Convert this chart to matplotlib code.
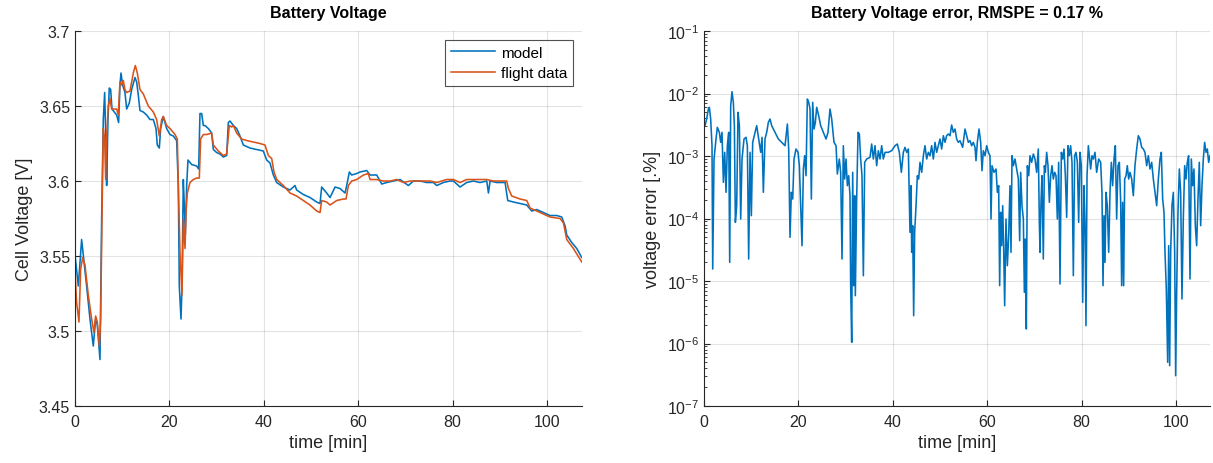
import numpy as np
import matplotlib
matplotlib.use("Agg")
import matplotlib.pyplot as plt
from matplotlib.ticker import LogLocator, NullFormatter

# colours used by MATLAB by default
BLUE = "#0072BD"
ORANGE = "#D95319"

# ---- Battery voltage: model ----
model_t = [0, 0.71, 1.41, 2.47, 3.18, 3.88, 4.38, 4.73, 5.30, 5.65, 6.00, 6.29, 6.57, 6.71, 6.99,
           7.27, 7.56, 7.84, 8.83, 9.25, 9.53, 9.75, 10.10, 10.59, 10.95, 11.51, 12.01, 12.71,
           13.07, 13.42, 13.77, 14.48, 15.18, 15.89, 16.60, 17.16, 17.44, 17.87, 18.15, 18.71,
           19.42, 20.13, 20.83, 21.54, 21.89, 22.10, 22.46, 22.67, 22.95, 23.16, 23.38, 23.66,
           23.94, 24.72, 25.78, 26.20, 26.48, 26.84, 27.19, 27.54, 28.25, 28.95, 29.31, 30.01,
           30.72, 31.43, 32.13, 32.49, 32.84, 33.55, 34.25, 34.96, 35.66, 37.08, 38.49, 39.90,
           40.61, 41.31, 42.02, 42.73, 44.14, 45.55, 46.61, 46.96, 48.38, 49.79, 51.20, 51.91,
           52.26, 53.32, 54.03, 55.09, 56.15, 57.21, 57.56, 58.12, 58.62, 59.68, 60.38, 61.80,
           62.50, 63.92, 64.98, 66.03, 67.45, 68.86, 70.62, 71.68, 73.10, 74.51, 75.92, 76.63,
           78.04, 79.45, 80.16, 81.57, 82.98, 84.40, 85.81, 87.22, 87.58, 87.93, 89.34, 91.11,
           91.67, 92.87, 94.28, 95.70, 96.75, 97.81, 99.23, 100.64, 102.05, 103.11, 103.82,
           104.17, 105.23, 106.29, 107.35]
model_v = [3.551, 3.530, 3.561, 3.530, 3.508, 3.490, 3.508, 3.504, 3.481, 3.575, 3.641, 3.659,
           3.624, 3.597, 3.641, 3.662, 3.661, 3.648, 3.644, 3.639, 3.664, 3.672, 3.664, 3.659,
           3.648, 3.652, 3.661, 3.669, 3.666, 3.657, 3.647, 3.646, 3.644, 3.641, 3.641, 3.635,
           3.624, 3.622, 3.635, 3.643, 3.635, 3.631, 3.630, 3.627, 3.597, 3.530, 3.508, 3.530,
           3.601, 3.584, 3.564, 3.597, 3.614, 3.611, 3.610, 3.608, 3.645, 3.645, 3.637, 3.637,
           3.635, 3.632, 3.621, 3.619, 3.618, 3.616, 3.617, 3.639, 3.640, 3.637, 3.635, 3.630,
           3.624, 3.622, 3.621, 3.620, 3.614, 3.612, 3.604, 3.599, 3.596, 3.594, 3.597, 3.594,
           3.591, 3.589, 3.586, 3.585, 3.596, 3.592, 3.589, 3.596, 3.595, 3.592, 3.597, 3.606,
           3.604, 3.605, 3.606, 3.607, 3.604, 3.604, 3.598, 3.599, 3.600, 3.601, 3.597, 3.600,
           3.600, 3.599, 3.599, 3.597, 3.599, 3.600, 3.600, 3.596, 3.599, 3.600, 3.599, 3.600,
           3.592, 3.600, 3.599, 3.599, 3.587, 3.586, 3.585, 3.584, 3.580, 3.581, 3.579, 3.577,
           3.577, 3.576, 3.570, 3.564, 3.559, 3.555, 3.549]

# ---- Battery voltage: flight data ----
flight_t = [0, 0.35, 0.85, 1.20, 1.62, 2.12, 2.82, 3.53, 4.03, 4.38, 4.73, 5.16, 5.44, 5.72,
            6.00, 6.29, 6.50, 6.71, 7.06, 7.42, 7.77, 8.83, 9.18, 9.53, 9.89, 10.24, 10.59,
            10.95, 11.65, 12.36, 12.78, 13.21, 13.77, 14.48, 15.54, 16.60, 17.30, 17.87, 18.36,
            18.71, 19.42, 20.13, 21.19, 21.68, 21.89, 22.25, 22.67, 22.95, 23.31, 23.52, 23.80,
            24.36, 25.07, 25.78, 26.34, 26.62, 27.19, 27.90, 28.95, 29.31, 30.37, 31.43, 32.13,
            32.70, 33.19, 33.55, 34.25, 35.31, 36.37, 37.78, 39.19, 40.25, 40.96, 41.67, 42.16,
            42.73, 44.14, 45.55, 46.96, 48.38, 49.79, 51.20, 51.91, 52.26, 53.32, 54.03, 55.44,
            56.85, 57.42, 57.91, 58.62, 59.68, 61.09, 62.15, 62.50, 63.92, 65.33, 66.74, 68.15,
            69.57, 70.98, 73.10, 75.22, 76.63, 78.75, 80.16, 81.57, 82.98, 85.10, 87.22, 88.63,
            91.46, 91.81, 92.52, 94.28, 95.70, 96.40, 97.81, 99.23, 100.64, 102.76, 103.47,
            104.17, 105.58, 107.35]
flight_v = [3.541, 3.519, 3.506, 3.541, 3.549, 3.544, 3.524, 3.508, 3.499, 3.510, 3.506, 3.490,
            3.508, 3.575, 3.635, 3.628, 3.601, 3.630, 3.650, 3.655, 3.648, 3.648, 3.644, 3.666,
            3.664, 3.667, 3.661, 3.659, 3.660, 3.672, 3.677, 3.672, 3.661, 3.658, 3.650, 3.646,
            3.641, 3.630, 3.641, 3.643, 3.637, 3.635, 3.631, 3.628, 3.597, 3.552, 3.524, 3.575,
            3.555, 3.579, 3.592, 3.599, 3.601, 3.602, 3.602, 3.628, 3.631, 3.631, 3.632, 3.624,
            3.620, 3.617, 3.618, 3.637, 3.636, 3.637, 3.632, 3.628, 3.627, 3.626, 3.625, 3.624,
            3.617, 3.615, 3.606, 3.601, 3.597, 3.592, 3.590, 3.587, 3.584, 3.580, 3.579, 3.587,
            3.586, 3.584, 3.587, 3.588, 3.588, 3.597, 3.600, 3.601, 3.604, 3.605, 3.601, 3.601,
            3.600, 3.600, 3.601, 3.599, 3.600, 3.600, 3.600, 3.599, 3.601, 3.601, 3.599, 3.601,
            3.601, 3.601, 3.600, 3.600, 3.595, 3.590, 3.588, 3.587, 3.582, 3.580, 3.578, 3.576,
            3.575, 3.572, 3.561, 3.555, 3.546]

# ---- voltage error (log10 of the plotted value) ----
err_t = [0.21, 0.56, 0.92, 1.13, 1.41, 1.69, 1.84, 2.12, 2.54, 2.82, 3.25, 3.53, 3.81, 4.10,
         4.38, 4.66, 4.94, 5.23, 5.44, 5.65, 5.93, 6.21, 6.43, 6.64, 6.92, 7.20, 7.49, 7.77,
         8.05, 8.47, 8.90, 9.18, 9.46, 9.75, 10.03, 10.31, 10.81, 11.16, 11.58, 12.01, 12.29,
         12.57, 12.92, 13.28, 13.63, 13.98, 14.34, 15.04, 15.75, 16.45, 17.16, 17.66, 17.94,
         18.22, 18.50, 18.79, 19.07, 19.49, 19.92, 20.20, 20.48, 20.76, 21.05, 21.33, 21.61,
         21.89, 22.18, 22.46, 22.74, 23.02, 23.31, 23.59, 23.87, 24.29, 24.72, 25.28, 25.85,
         26.27, 26.69, 27.05, 27.54, 27.97, 28.25, 28.67, 28.95, 29.24, 29.52, 29.80, 30.08,
         30.37, 30.65, 30.93, 31.07, 31.29, 31.50, 31.71, 31.92, 32.06, 32.34, 32.63, 32.91,
         33.19, 33.47, 33.76, 34.04, 34.46, 35.17, 35.52, 35.88, 36.23, 36.58, 36.94, 37.29,
         37.64, 37.99, 38.35, 39.05, 39.76, 40.47, 40.96, 41.38, 41.81, 42.23, 42.58, 42.94,
         43.29, 43.64, 43.86, 44.00, 44.21, 44.42, 44.63, 44.92, 45.20, 45.48, 45.76, 46.12,
         46.47, 46.82, 47.18, 47.53, 47.88, 48.23, 48.59, 48.94, 49.29, 49.65, 50.00, 50.35,
         50.71, 51.06, 51.41, 51.77, 52.12, 52.47, 52.82, 53.18, 53.53, 53.88, 54.24, 54.80,
         55.30, 55.65, 56.00, 56.36, 56.71, 57.06, 57.42, 57.63, 57.91, 58.26, 58.62, 58.90,
         59.18, 59.54, 59.89, 60.24, 60.59, 60.81, 61.02, 61.44, 61.87, 62.15, 62.43, 62.64,
         62.85, 63.07, 63.28, 63.49, 63.70, 63.98, 64.27, 64.55, 64.83, 65.04, 65.26, 65.54,
         65.89, 66.24, 66.60, 66.88, 67.09, 67.37, 67.66, 67.87, 68.08, 68.29, 68.50, 68.79,
         69.07, 69.42, 69.78, 70.13, 70.48, 70.83, 71.05, 71.19, 71.40, 71.61, 71.89, 72.11,
         72.32, 72.60, 72.88, 73.17, 73.45, 73.73, 74.01, 74.30, 74.58, 74.86, 75.14, 75.43,
         75.71, 75.99, 76.27, 76.56, 76.84, 77.12, 77.40, 77.68, 77.97, 78.25, 78.53, 78.81,
         79.10, 79.38, 79.66, 79.94, 80.23, 80.51, 80.72, 80.93, 81.15, 81.43, 81.64, 81.92,
         82.20, 82.49, 82.84, 83.19, 83.62, 84.04, 84.32, 84.54, 84.75, 84.96, 85.17, 85.45,
         85.74, 86.02, 86.30, 86.58, 86.87, 87.15, 87.43, 87.71, 88.00, 88.28, 88.49, 88.70,
         88.91, 89.13, 89.41, 89.69, 89.97, 90.26, 90.61, 90.96, 91.31, 91.67, 92.02, 92.37,
         92.73, 93.08, 93.43, 93.79, 94.14, 94.49, 94.85, 95.20, 95.55, 95.91, 96.26, 96.61,
         96.89, 97.18, 97.46, 97.67, 97.95, 98.24, 98.45, 98.66, 98.87, 99.15, 99.44, 99.72,
         99.93, 100.14, 100.42, 100.71, 100.99, 101.27, 101.55, 101.84, 102.12, 102.40,
         102.68, 102.97, 103.25, 103.53, 103.81, 104.10, 104.38, 104.66, 104.94, 105.23,
         105.51, 105.79, 106.07, 106.36, 106.64, 106.92, 107.20]
err_log10 = [-2.515, -2.408, -2.248, -2.221, -2.408, -2.835, -4.808, -3.048, -2.728, -2.541,
             -2.621, -2.781, -2.621, -3.421, -2.941, -3.581, -2.835, -2.621, -4.701, -2.195,
             -1.971, -2.141, -2.515, -4.061, -3.795, -2.301, -2.515, -4.008, -3.048, -2.728,
             -2.701, -2.835, -4.648, -2.941, -3.955, -2.781, -2.621, -2.515, -2.728, -2.941,
             -2.701, -3.581, -2.728, -2.621, -2.461, -2.408, -2.515, -2.621, -2.728, -2.781,
             -2.835, -2.488, -2.888, -4.301, -3.581, -3.688, -3.048, -2.888, -2.941, -3.155,
             -3.795, -4.435, -3.208, -2.995, -3.315, -2.088, -2.141, -2.248, -3.688, -2.141,
             -2.568, -2.461, -2.221, -2.355, -2.515, -2.621, -2.728, -2.621, -2.248, -2.408,
             -2.781, -2.835, -3.288, -3.048, -3.261, -4.648, -2.835, -3.368, -3.048, -3.475,
             -3.315, -3.635, -5.075, -5.981, -3.261, -5.075, -3.635, -5.235, -3.688, -2.621,
             -2.648, -3.048, -3.315, -4.915, -3.101, -3.048, -3.021, -2.808, -3.048, -2.835,
             -3.155, -2.915, -3.048, -2.835, -3.048, -2.941, -2.941, -2.915, -2.835, -2.808,
             -2.941, -3.261, -2.941, -2.861, -2.941, -2.888, -4.221, -3.475, -4.541, -4.115,
             -5.555, -4.221, -3.795, -3.315, -3.368, -3.101, -3.261, -2.995, -2.835, -3.048,
             -2.941, -2.995, -2.835, -3.048, -2.781, -2.941, -2.835, -2.728, -2.888, -2.675,
             -2.781, -2.675, -2.648, -2.675, -2.504, -2.621, -2.568, -2.728, -2.781, -2.755,
             -2.861, -2.568, -2.675, -2.781, -2.755, -2.835, -2.781, -2.861, -3.075, -2.781,
             -2.568, -2.781, -3.235, -2.915, -2.995, -2.835, -2.941, -2.995, -4.008, -3.155,
             -3.261, -3.208, -3.581, -3.475, -5.075, -3.901, -4.435, -3.795, -4.488, -5.395,
             -4.008, -4.755, -4.275, -3.475, -4.541, -2.995, -3.155, -3.048, -3.208, -3.368,
             -4.355, -3.261, -3.795, -4.008, -5.181, -4.328, -5.768, -3.155, -3.315, -2.995,
             -3.101, -2.968, -3.048, -3.261, -2.888, -4.061, -4.541, -3.741, -3.315, -4.648,
             -3.155, -3.261, -2.941, -3.155, -3.741, -3.315, -3.155, -3.368, -3.261, -3.315,
             -4.008, -3.101, -5.048, -2.941, -3.048, -2.888, -3.315, -3.981, -2.835, -2.995,
             -2.835, -3.101, -4.915, -2.995, -2.941, -3.101, -4.061, -2.941, -3.155, -5.341,
             -3.475, -4.061, -5.715, -3.315, -2.835, -2.995, -3.208, -2.995, -3.048, -2.941,
             -3.261, -3.048, -3.101, -3.581, -5.075, -3.955, -4.701, -3.581, -3.795, -4.541,
             -3.581, -3.101, -3.475, -3.048, -2.835, -4.008, -3.155, -3.101, -3.741, -5.075,
             -3.741, -5.075, -3.368, -3.315, -3.155, -3.368, -3.261, -3.368, -3.635, -3.155,
             -2.888, -2.675, -2.728, -2.861, -2.888, -2.941, -3.155, -2.995, -3.208, -3.101,
             -3.368, -3.581, -3.795, -3.368, -3.048, -2.941, -3.688, -3.901, -4.541, -5.128,
             -6.301, -4.435, -6.355, -4.541, -3.795, -3.581, -4.541, -6.515, -5.181, -3.901,
             -3.208, -3.581, -5.288, -4.008, -3.155, -3.368, -3.101, -2.995, -4.968, -3.048,
             -3.475, -3.208, -4.115, -4.435, -3.688, -3.101, -4.115, -3.475, -3.048, -2.781,
             -2.941, -2.888, -3.101, -2.995]
err = 10.0 ** np.array(err_log10)

plt.rcParams['font.family'] = ['Liberation Sans', 'DejaVu Sans']
plt.rcParams['mathtext.fontset'] = 'custom'
plt.rcParams['mathtext.rm'] = 'Liberation Sans'
plt.rcParams['mathtext.it'] = 'Liberation Sans'

AX_COL = "#262626"


def style_axes(ax):
    for s in ['top', 'right']:
        ax.spines[s].set_visible(False)
    for s in ['left', 'bottom']:
        ax.spines[s].set_color(AX_COL)
        ax.spines[s].set_linewidth(0.8)
    ax.tick_params(direction='in', colors=AX_COL, labelsize=11.5, length=4, width=0.8)
    ax.tick_params(axis='x', pad=6)
    ax.grid(True, color='#000000', alpha=0.11, linewidth=0.8)
    ax.set_axisbelow(True)


fig = plt.figure(figsize=(12.13, 4.64), dpi=100)
ax1 = fig.add_axes([0.0618, 0.1228, 0.418, 0.8082])
ax2 = fig.add_axes([0.5804, 0.1228, 0.4171, 0.8082])

# left: voltage
ax1.plot(model_t, model_v, color=BLUE, linewidth=1.15, label='model')
ax1.plot(flight_t, flight_v, color=ORANGE, linewidth=1.15, label='flight data')
ax1.set_xlim(0, 107.4)
ax1.set_ylim(3.45, 3.7)
ax1.set_xticks([0, 20, 40, 60, 80, 100])
ax1.set_yticks([3.45, 3.5, 3.55, 3.6, 3.65, 3.7])
ax1.set_yticklabels(['3.45', '3.5', '3.55', '3.6', '3.65', '3.7'])
style_axes(ax1)
ax1.set_xlabel('time [min]', fontsize=13, color=AX_COL, labelpad=3)
ax1.set_ylabel('Cell Voltage [V]', fontsize=13, color=AX_COL)
ax1.set_title('Battery Voltage', fontsize=11.5, fontweight='bold', color='black', pad=10)
leg = ax1.legend(loc='upper right', fontsize=11, frameon=True, fancybox=False,
                 borderaxespad=0.6, handlelength=2.9, handletextpad=0.4,
                 borderpad=0.35, labelspacing=0.45)
leg.get_frame().set_edgecolor(AX_COL)
leg.get_frame().set_linewidth(0.8)

# right: error
ax2.semilogy(err_t, err, color=BLUE, linewidth=1.15)
ax2.set_xlim(0, 107.2)
ax2.set_ylim(1e-7, 1e-1)
ax2.set_xticks([0, 20, 40, 60, 80, 100])
ax2.yaxis.set_major_locator(LogLocator(base=10, numticks=10))
ax2.yaxis.set_minor_locator(LogLocator(base=10, subs=np.arange(2, 10), numticks=20))
ax2.yaxis.set_minor_formatter(NullFormatter())
style_axes(ax2)
ax2.tick_params(axis='y', which='minor', direction='in', length=2.5, colors=AX_COL)
ax2.grid(False, which='minor')
ax2.set_xlabel('time [min]', fontsize=13, color=AX_COL, labelpad=3)
ax2.set_ylabel('voltage error [.%]', fontsize=13, color=AX_COL)
ax2.set_title('Battery Voltage error, RMSPE = 0.17 %', fontsize=11.5, fontweight='bold',
              color='black', pad=10)

fig.savefig('out.png', dpi=100)
